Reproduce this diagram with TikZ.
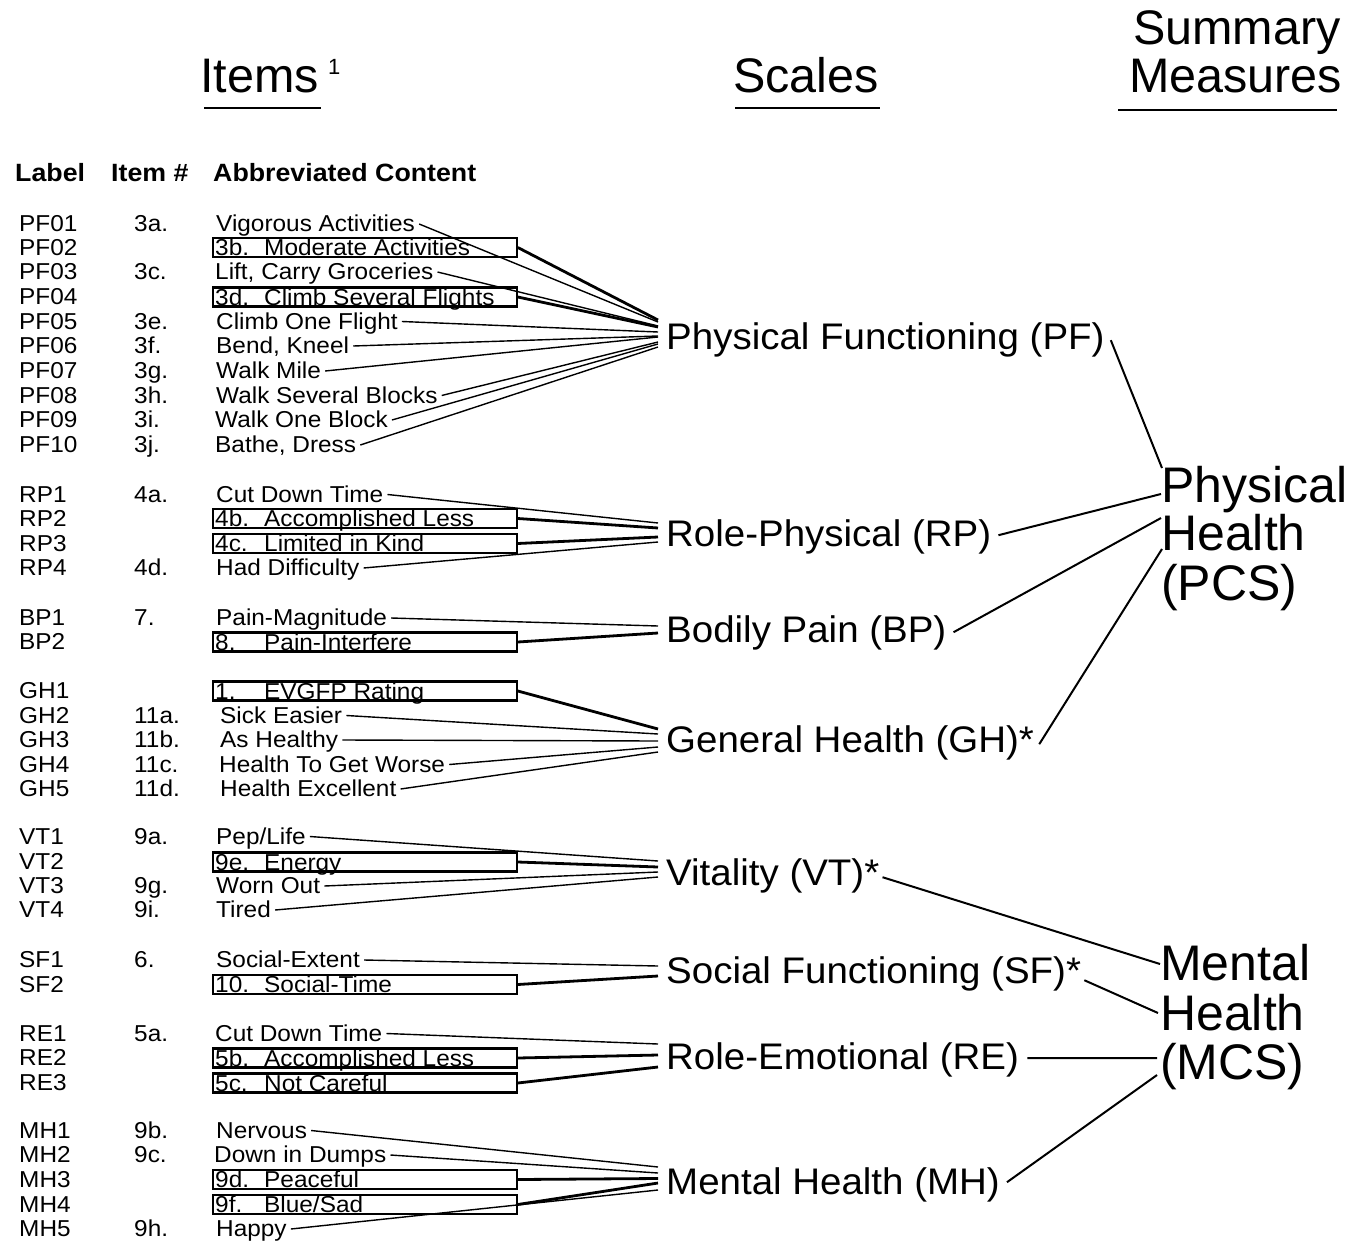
\documentclass[tikz,border=0pt]{standalone}
\usepackage{fontspec}
\setmainfont{Liberation Sans}
\newfontfamily\itemfont[FakeStretch=1.06]{Liberation Sans}
\newfontfamily\hdrfont[FakeStretch=1.07]{Liberation Sans}
\newfontfamily\sclfont[FakeStretch=1.04]{Liberation Sans}
\usetikzlibrary{calc}
\tikzset{
 itm/.style={font=\itemfont\fontsize{23}{27}\selectfont, inner sep=0pt, anchor=base west},
 hdr/.style={font=\hdrfont\bfseries\fontsize{25}{30}\selectfont, inner sep=0pt, anchor=base west},
 ibox/.style={draw, line width=2.2pt, minimum width=303.5pt, minimum height=19pt, inner sep=0pt, anchor=west},
 scl/.style={font=\sclfont\fontsize{37}{44}\selectfont, inner sep=0pt, anchor=base west},
 summ/.style={font=\fontsize{50}{58}\selectfont, inner sep=0pt, anchor=base west},
 ttl/.style={font=\fontsize{48.5}{58}\selectfont, inner sep=0pt, anchor=base west},
 thinline/.style={line width=1.4pt},
 fatline/.style={line width=2.8pt},
 linkline/.style={line width=2pt},
 uline/.style={line width=2.6pt},
}
\newcommand\plainitem[6]{%
 \node[itm] (#1l) at (19,#5+7.9) {#2};
 \node[itm] (#1n) at (134,#5+7.9) {#3};
 \node[itm] (#1) at (#6,#5+7.9) {#4};}
\newcommand\boxitem[5]{%
 \node[itm] (#1l) at (19,#5+7.9) {#2};
 \node[ibox] (#1) at (212.1,#5) {};
 \node[itm] (#1n) at (215,#5+8.4) {#3};
 \node[itm] (#1t) at (264,#5+8.4) {#4};}
\newcommand\plainlink[3]{\draw[thinline] ($(#1.base east)+(4,-7.9)$) -- ($(#2)+(0,#3)$);}
\newcommand\boxlink[3]{\draw[fatline] (#1.east) -- ($(#2)+(0,#3)$);}
\begin{document}
\begin{tikzpicture}[x=1pt,y=-1pt]
\fill[white] (0,0) rectangle (1364,1252);
\useasboundingbox (0,0) rectangle (1364,1252);
% titles
\node[ttl] (items) at (200,93) {Items};
\node[itm, font=\fontsize{22}{26}\selectfont] (sup1) at (328,75) {1};
\draw[uline] ($(items.base west)+(4,15)$) coordinate (iu1) -- ($(items.base east)+(2,15)$) coordinate (iu2);
\node[ttl] (scales) at (733,93) {Scales};
\draw[uline] ($(scales.base west)+(2,15)$) coordinate (su1) -- ($(scales.base east)+(1,15)$) coordinate (su2);
\node[ttl] (summ1) at (1133,45) {Summary};
\node[ttl] (summ2) at (1129,93) {Measures};
\draw[uline] ($(summ2.base west)+(-11,17)$) coordinate (mu1) -- ($(summ2.base east)+(-5,17)$) coordinate (mu2);
% column headers
\node[hdr] (hlabel) at (15,181.7) {Label};
\node[hdr] (hitem) at (111,181.7) {Item \#};
\node[hdr] (hcont) at (213,181.7) {Abbreviated Content};
% items
\plainitem{PF01}{PF01}{3a.}{Vigorous Activities}{224}{216}
\boxitem{PF02}{PF02}{3b.}{Moderate Activities}{247.5}
\plainitem{PF03}{PF03}{3c.}{Lift, Carry Groceries}{272}{215}
\boxitem{PF04}{PF04}{3d.}{Climb Several Flights}{297}
\plainitem{PF05}{PF05}{3e.}{Climb One Flight}{321.5}{216}
\plainitem{PF06}{PF06}{3f.}{Bend, Kneel}{346}{216}
\plainitem{PF07}{PF07}{3g.}{Walk Mile}{371}{216}
\plainitem{PF08}{PF08}{3h.}{Walk Several Blocks}{395.5}{216}
\plainitem{PF09}{PF09}{3i.}{Walk One Block}{420}{215}
\plainitem{PF10}{PF10}{3j.}{Bathe, Dress}{445}{215}
\plainitem{RP1}{RP1}{4a.}{Cut Down Time}{494.5}{216}
\boxitem{RP2}{RP2}{4b.}{Accomplished Less}{518.5}
\boxitem{RP3}{RP3}{4c.}{Limited in Kind}{543.5}
\plainitem{RP4}{RP4}{4d.}{Had Difficulty}{568}{216}
\plainitem{BP1}{BP1}{7.}{Pain-Magnitude}{618}{216}
\boxitem{BP2}{BP2}{8.}{Pain-Interfere}{642}
\boxitem{GH1}{GH1}{1.}{EVGFP Rating}{691}
\plainitem{GH2}{GH2}{11a.}{Sick Easier}{715.5}{220}
\plainitem{GH3}{GH3}{11b.}{As Healthy}{740}{220}
\plainitem{GH4}{GH4}{11c.}{Health To Get Worse}{764.5}{219}
\plainitem{GH5}{GH5}{11d.}{Health Excellent}{789}{220}
\plainitem{VT1}{VT1}{9a.}{Pep/Life}{836.5}{216}
\boxitem{VT2}{VT2}{9e.}{Energy}{862}
\plainitem{VT3}{VT3}{9g.}{Worn Out}{886}{216}
\plainitem{VT4}{VT4}{9i.}{Tired}{910}{216}
\plainitem{SF1}{SF1}{6.}{Social-Extent}{960}{216}
\boxitem{SF2}{SF2}{10.}{Social-Time}{984.5}
\plainitem{RE1}{RE1}{5a.}{Cut Down Time}{1033.5}{215}
\boxitem{RE2}{RE2}{5b.}{Accomplished Less}{1058}
\boxitem{RE3}{RE3}{5c.}{Not Careful}{1083}
\plainitem{MH1}{MH1}{9b.}{Nervous}{1130.5}{216}
\plainitem{MH2}{MH2}{9c.}{Down in Dumps}{1155}{214}
\boxitem{MH3}{MH3}{9d.}{Peaceful}{1179.5}
\boxitem{MH4}{MH4}{9f.}{Blue/Sad}{1204.5}
\plainitem{MH5}{MH5}{9h.}{Happy}{1229}{216}
% scales
\node[scl] (PFs) at (666,336+13.2) {Physical Functioning (PF)};
\node[scl] (RPs) at (666,533+13.2) {Role-Physical (RP)};
\node[scl] (BPs) at (666,629+13.2) {Bodily Pain (BP)};
\node[scl] (GHs) at (666,739+13.2) {General Health (GH)*};
\node[scl] (VTs) at (666,872+13.2) {Vitality (VT)*};
\node[scl] (SFs) at (666,970+13.2) {Social Functioning (SF)*};
\node[scl] (REs) at (666,1056+13.2) {Role-Emotional (RE)};
\node[scl] (MHs) at (666,1181+13.2) {Mental Health (MH)};
\coordinate (PFf) at (658,336);
\coordinate (RPf) at (658,533);
\coordinate (BPf) at (658,629);
\coordinate (GHf) at (658,739);
\coordinate (VTf) at (658,872);
\coordinate (SFf) at (658,970);
\coordinate (REf) at (658,1056);
\coordinate (MHf) at (658,1181);
% item links
\plainlink{PF01}{PFf}{-14}
\boxlink{PF02}{PFf}{-16}
\plainlink{PF03}{PFf}{-10}
\boxlink{PF04}{PFf}{-9}
\plainlink{PF05}{PFf}{-4}
\plainlink{PF06}{PFf}{0}
\plainlink{PF07}{PFf}{1}
\plainlink{PF08}{PFf}{6}
\plainlink{PF09}{PFf}{8}
\plainlink{PF10}{PFf}{11}
\plainlink{RP1}{RPf}{-10}
\boxlink{RP2}{RPf}{-5}
\boxlink{RP3}{RPf}{4}
\plainlink{RP4}{RPf}{9}
\plainlink{BP1}{BPf}{-3}
\boxlink{BP2}{BPf}{4}
\boxlink{GH1}{GHf}{-10}
\plainlink{GH2}{GHf}{-5}
\plainlink{GH3}{GHf}{2}
\plainlink{GH4}{GHf}{8}
\plainlink{GH5}{GHf}{13}
\plainlink{VT1}{VTf}{-11}
\boxlink{VT2}{VTf}{-5}
\plainlink{VT3}{VTf}{0}
\plainlink{VT4}{VTf}{5}
\plainlink{SF1}{SFf}{-4}
\boxlink{SF2}{SFf}{6}
\plainlink{RE1}{REf}{-12}
\boxlink{RE2}{REf}{-1}
\boxlink{RE3}{REf}{11}
\plainlink{MH1}{MHf}{-14}
\plainlink{MH2}{MHf}{-8}
\boxlink{MH3}{MHf}{-2.5}
\boxlink{MH4}{MHf}{2}
\plainlink{MH5}{MHf}{9}
% summary measures
\node[summ] (PCSa) at (1161,502.5) {Physical};
\node[summ] (PCSb) at (1161,550.5) {Health};
\node[summ] (PCSc) at (1161,600.5) {(PCS)};
\node[summ] (MCSa) at (1160,980.5) {Mental};
\node[summ] (MCSb) at (1160,1030.5) {Health};
\node[summ] (MCSc) at (1160,1079.5) {(MCS)};
% scale to summary links
\draw[linkline] ($(PFs.base east)+(6,-9)$) -- ($(PCSa.base west)+(1,-34.5)$);
\draw[linkline] ($(RPs.base east)+(7,-11)$) -- ($(PCSa.base west)+(0,-8.5)$);
\draw[linkline] ($(BPs.base east)+(7,-10)$) -- ($(PCSb.base west)+(0,-32.5)$);
\draw[linkline] ($(GHs.base east)+(5,-8)$) -- ($(PCSb.base west)+(1,-1.5)$);
\draw[linkline] ($(VTs.base east)+(3,-8)$) -- ($(MCSa.base west)+(0,-16.5)$);
\draw[linkline] ($(SFs.base east)+(3,-3)$) -- ($(MCSb.base west)+(-2,-17.5)$);
\draw[linkline] ($(REs.base east)+(8,-11)$) -- ($(MCSc.base west)+(-3,-21.5)$);
\draw[linkline] ($(MHs.base east)+(7,-12)$) -- ($(MCSc.base west)+(-3,-4.5)$);
\end{tikzpicture}
\end{document}
